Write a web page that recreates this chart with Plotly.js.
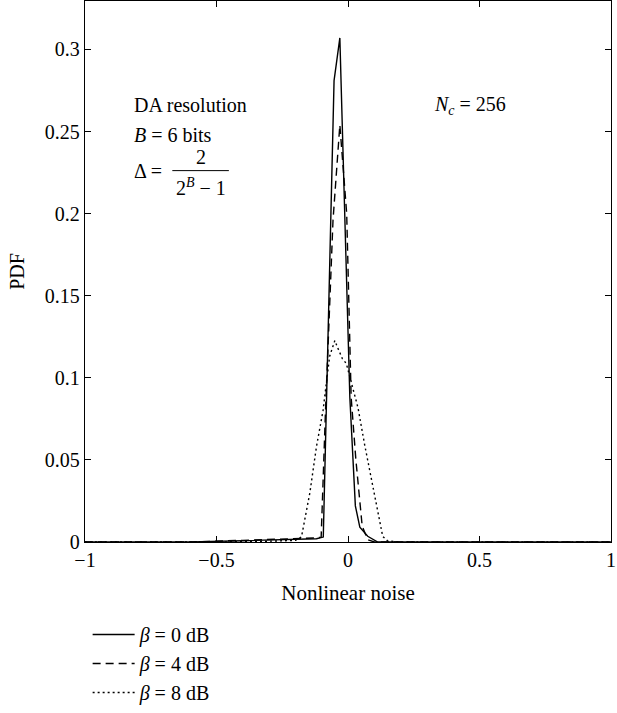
<!DOCTYPE html>
<html>
<head>
<meta charset="utf-8">
<script src="https://cdn.plot.ly/plotly-3.0.1.min.js"></script>
<style>html,body{margin:0;padding:0;background:#fff;}#chart{width:617px;height:713px;}</style>
</head>
<body>
<div id="chart"></div>
<script>
// Series names
const seriesNames = ["<i>β</i> = 0 dB", "<i>β</i> = 4 dB", "<i>β</i> = 8 dB"];

// β = 0 dB (solid)
const x0 = [-1, -0.6, -0.4, -0.2, -0.12, -0.094, -0.053, -0.031, 0.007, 0.028, 0.045, 0.075, 0.113, 0.3, 1];
const y0 = [0, 0, 0.0008, 0.0015, 0.002, 0.003, 0.281, 0.307, 0.088, 0.022, 0.009, 0.0035, 0, 0, 0];

// β = 4 dB (dashed)
const x4 = [-1, -0.6, -0.4, -0.2, -0.12, -0.102, -0.086, -0.057, -0.031, -0.005, 0.012, 0.03, 0.054, 0.075, 0.1, 1];
const y4 = [0, 0, 0.001, 0.002, 0.0025, 0.003, 0.078, 0.196, 0.254, 0.200, 0.088, 0.05, 0.0096, 0.0014, 0, 0];

// β = 8 dB (dotted)
const x8 = [-1, -0.5, -0.3, -0.2, -0.177, -0.145, -0.12, -0.095, -0.07, -0.059, -0.05, -0.04, -0.0215, -0.0064, 0.019, 0.038, 0.063, 0.10, 0.132, 0.151, 0.2, 1];
const y8 = [0, 0, 0.0005, 0.001, 0.003, 0.03, 0.058, 0.08, 0.113, 0.118, 0.1227, 0.1186, 0.1117, 0.1087, 0.0938, 0.0818, 0.0595, 0.0295, 0.0034, 0.0006, 0, 0];

// Tick labels
const xTickVals = [-1, -0.5, 0, 0.5, 1];
const xTickText = ["\u22121", "\u22120.5", "0", "0.5", "1"];
const yTickVals = [0, 0.05, 0.1, 0.15, 0.2, 0.25, 0.3];
const yTickText = ["0", "0.05", "0.1", "0.15", "0.2", "0.25", "0.3"];

const FONT = "Liberation Serif, Times New Roman, serif";
const FS = 20;

const dashes = ["solid", "8px,5px", "2px,3px"];
const xs = [x0, x4, x8];
const ys = [y0, y4, y8];
const traces = xs.map((xv, i) => ({
  x: xv, y: ys[i], type: "scatter", mode: "lines",
  name: seriesNames[i], legendgroup: "g" + i,
  line: {color: "#000", width: 1.4, dash: dashes[i]},
  hoverinfo: "skip"
}));

const axisCommon = {
  showgrid: false, zeroline: false, showline: true, linecolor: "#000", linewidth: 1.3,
  mirror: "ticks", ticks: "inside", ticklen: 6, tickwidth: 1, tickcolor: "#000",
  ticklabeloverflow: "allow",
  tickfont: {family: FONT, size: FS, color: "#000"}
};

const layout = {
  width: 617, height: 713,
  margin: {l: 85, r: 6, t: 1, b: 164},
  paper_bgcolor: "#fff", plot_bgcolor: "#fff",
  font: {family: FONT, size: FS, color: "#000"},
  xaxis: Object.assign({}, axisCommon, {
    range: [-1, 1], tickmode: "array", tickvals: xTickVals, ticktext: xTickText,
    title: {text: "Nonlinear noise", font: {family: FONT, size: 21}, standoff: 15}
  }),
  yaxis: Object.assign({}, axisCommon, {
    range: [0, 0.3295], tickmode: "array", tickvals: yTickVals, ticktext: yTickText,
    title: {text: "PDF", font: {family: FONT, size: FS}, standoff: 14}
  }),
  showlegend: true,
  legend: {
    x: 0.005, y: -0.135, xanchor: "left", yanchor: "top",
    bgcolor: "rgba(0,0,0,0)", borderwidth: 0,
    font: {family: FONT, size: FS, color: "#000"},
    tracegroupgap: 0, itemwidth: 42
  },
  annotations: [
    {xref: "x", yref: "y", x: -0.82, y: 0.266, xanchor: "left", yanchor: "middle", showarrow: false, text: "DA resolution"},
    {xref: "x", yref: "y", x: -0.82, y: 0.248, xanchor: "left", yanchor: "middle", showarrow: false, text: "<i>B</i> = 6 bits"},
    {xref: "x", yref: "y", x: -0.82, y: 0.226, xanchor: "left", yanchor: "middle", showarrow: false, text: "Δ ="},
    {xref: "x", yref: "y", x: -0.56, y: 0.2345, xanchor: "center", yanchor: "middle", showarrow: false, text: "2"},
    {xref: "x", yref: "y", x: -0.56, y: 0.2163, xanchor: "center", yanchor: "middle", showarrow: false, text: "2<sup><i>B</i></sup> − 1"},
    {xref: "x", yref: "y", x: 0.32, y: 0.266, xanchor: "left", yanchor: "middle", showarrow: false, text: "<i>N</i><sub><i>c</i></sub> = 256"}
  ],
  shapes: [
    {type: "line", xref: "x", yref: "y", x0: -0.668, x1: -0.453, y0: 0.2262, y1: 0.2262, line: {color: "#000", width: 1}}
  ]
};

Plotly.newPlot("chart", traces, layout, {displayModeBar: false, staticPlot: true});
</script>
</body>
</html>
